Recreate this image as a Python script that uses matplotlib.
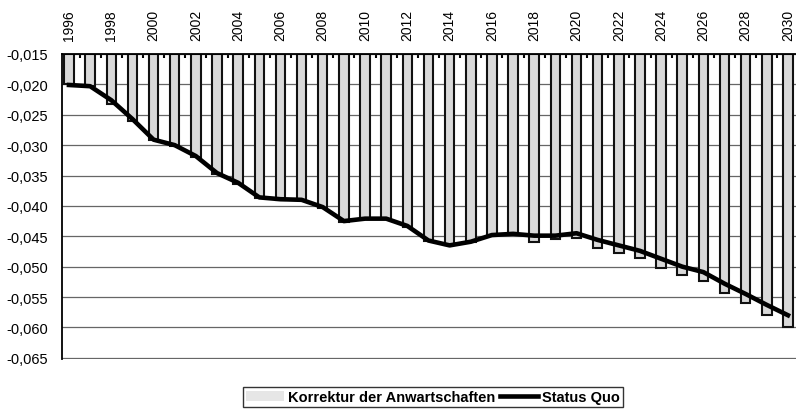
import matplotlib
matplotlib.use('Agg')
import matplotlib.pyplot as plt
from matplotlib.ticker import FuncFormatter, FixedLocator

plt.rcParams['font.family'] = ['Liberation Sans', 'DejaVu Sans']

years = list(range(1996, 2031))

# Status Quo line
status_quo = [-0.0201, -0.0203, -0.0226, -0.0257, -0.0291, -0.0300, -0.0318,
              -0.0346, -0.0362, -0.0386, -0.0389, -0.0390, -0.0402, -0.0425,
              -0.0421, -0.0421, -0.0433, -0.0457, -0.0465, -0.0459, -0.0448,
              -0.0446, -0.0449, -0.0449, -0.0445, -0.0456, -0.0465, -0.0474,
              -0.0487, -0.0500, -0.0509, -0.0528, -0.0545, -0.0563, -0.0580]

# Korrektur der Anwartschaften bars
korrektur = [-0.0200, -0.0202, -0.0233, -0.0260, -0.0292, -0.0301, -0.0320,
             -0.0348, -0.0364, -0.0387, -0.0390, -0.0391, -0.0403, -0.0426,
             -0.0422, -0.0422, -0.0434, -0.0457, -0.0465, -0.0459, -0.0448,
             -0.0447, -0.0459, -0.0455, -0.0453, -0.0470, -0.0477, -0.0486,
             -0.0502, -0.0513, -0.0524, -0.0543, -0.0560, -0.0579, -0.0599]

base = -0.015
yticks = [-0.065, -0.060, -0.055, -0.050, -0.045, -0.040, -0.035,
          -0.030, -0.025, -0.020, -0.015]

fig = plt.figure(figsize=(7.96, 4.14), dpi=100)
ax = fig.add_axes([62 / 796, 1 - 360 / 414, 1 - 62 / 796, (360 - 55) / 414])

x = list(range(len(years)))
bars = ax.bar(x, [v - base for v in korrektur], bottom=base, width=0.45,
              color='#d9d9d9', edgecolor='#111111', linewidth=1.5, zorder=2)
line, = ax.plot(x, status_quo, color='black', linewidth=3.3, zorder=3,
                solid_joinstyle='round')

ax.set_ylim(-0.0652, -0.015)
ax.set_xlim(-0.33, len(years) - 1 + 0.38)
ax.set_yticks(yticks)
ax.yaxis.set_major_formatter(FuncFormatter(lambda v, p: ('%.3f' % v).replace('.', ',')))
ax.grid(axis='y', color='#666666', linewidth=0.9, zorder=0)

ax.xaxis.tick_top()
ax.set_xticks(x[::2])
ax.set_xticklabels([str(y) for y in years[::2]], rotation=90, fontsize=10)
ax.xaxis.set_minor_locator(FixedLocator([i + 0.5 for i in x]))
ax.tick_params(axis='x', which='major', length=0, pad=10)
ax.tick_params(axis='x', which='minor', direction='in', length=3, width=1.5, top=True, bottom=False)
ax.tick_params(axis='y', which='major', length=0, pad=10, labelsize=10.5)

for side in ['right', 'bottom']:
    ax.spines[side].set_visible(False)
ax.spines['top'].set_linewidth(1.3)
ax.spines['left'].set_linewidth(1.3)

legend_patch = plt.Rectangle((0, 0), 1, 1, facecolor='#e6e6e6', edgecolor='none')
leg = fig.legend([legend_patch, line], ['Korrektur der Anwartschaften', 'Status Quo'],
                 loc='center', bbox_to_anchor=(433 / 796, 1 - 398 / 414), ncol=2,
                 frameon=True, fancybox=False, edgecolor='black',
                 handlelength=2.6, columnspacing=0.3, handletextpad=0.3,
                 borderpad=0.2, prop={'weight': 'bold', 'size': 10.5})
leg.get_frame().set_linewidth(1.0)

fig.savefig('out.png', dpi=100)
